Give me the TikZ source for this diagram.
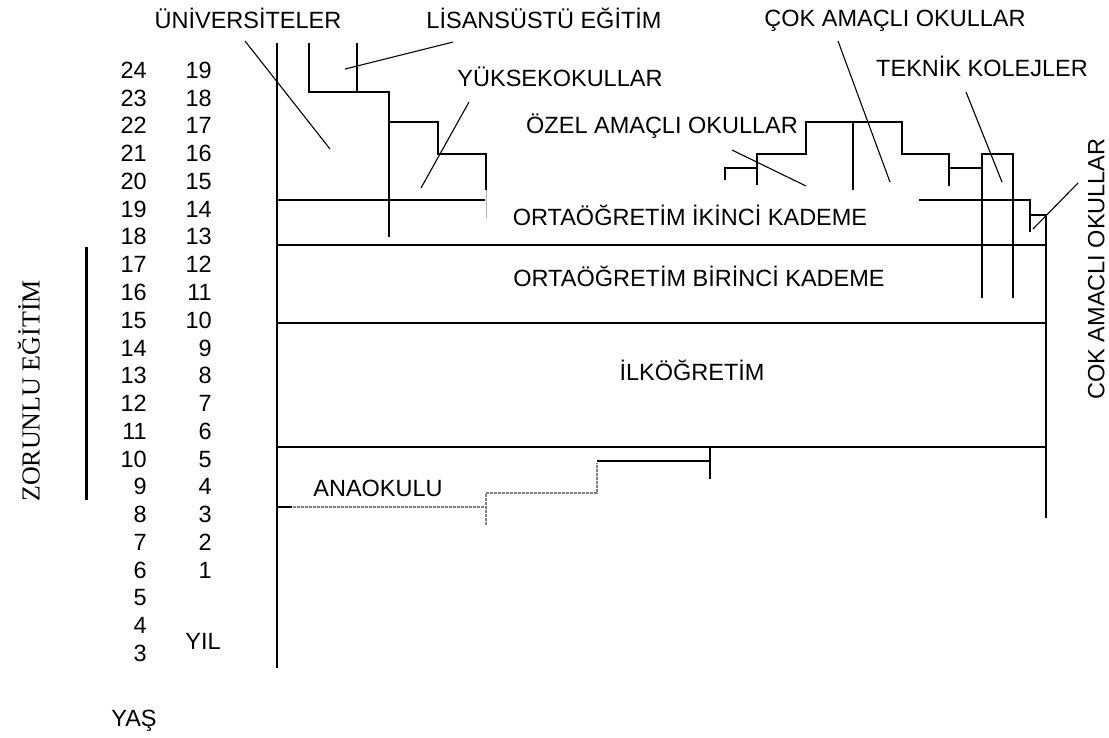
\documentclass[tikz,border=0pt]{standalone}
\usepackage{fontspec}
\setmainfont{Liberation Sans}
\newfontfamily\serifyazi{Liberation Serif}
\tikzset{
  etiket/.style={font=\fontsize{23.5}{28}\selectfont, inner sep=0pt, text height=16.8pt, text depth=0pt},
  cizgi/.style={line width=1.3pt},
  gri/.style={gray, line width=1.3pt, dash pattern=on 3pt off 1pt},
  isaret/.style={line width=1.1pt},
}
\begin{document}
\begin{tikzpicture}[x=1pt, y=-1pt]
    \useasboundingbox (0,0) rectangle (1109,737);
    % yas ve yil sutunlari
    \foreach \yas [count=\i from 0] in {24,23,...,3}
        \node[etiket, anchor=east] (yas\yas) at (147,{70+\i*27.76}) {\yas};
    \foreach \yil [count=\i from 0] in {19,18,...,1}
        \node[etiket, anchor=east] (yil\yil) at (212,{70+\i*27.76}) {\yil};
    \node[etiket] (yil) at (203,641) {YIL};
    \node[etiket] (yas) at (134,718) {YAŞ};
    \draw[line width=3pt] (86,247) -- (86,500);
    \node[font=\serifyazi\fontsize{26}{30}\selectfont, rotate=90, inner sep=0pt, text height=17.2pt, text depth=0pt] (zorunlu) at (31,391) {ZORUNLU EĞİTİM};
    % ana cizgiler
    \draw[cizgi] (277,43) -- (277,668);
    \draw[cizgi] (277,200) -- (485,200);
    \draw[cizgi] (277,245) -- (1046,245);
    \draw[cizgi] (277,323) -- (1046,323);
    \draw[cizgi] (277,447) -- (1046,447);
    \draw[cizgi] (919,200) -- (1030,200) -- (1030,232);
    \draw[cizgi] (1030,215) -- (1046,215) -- (1046,518);
    % universite basamaklari
    \draw[cizgi] (309,43) -- (309,92) -- (389,92) -- (389,237);
    \draw[cizgi] (357,43) -- (357,92);
    \draw[cizgi] (389,122) -- (438,122) -- (438,154) -- (486,154) -- (486,190);
    \draw[gray!60, line width=0.8pt] (486,190) -- (486,218);
    % ortaogretim sonrasi basamaklar
    \draw[cizgi] (725,180) -- (725,168) -- (757,168);
    \draw[cizgi] (757,185) -- (757,154) -- (806,154) -- (806,122) -- (902,122) -- (902,154) -- (949,154) -- (949,186);
    \draw[cizgi] (853,122) -- (853,190);
    \draw[cizgi] (949,168) -- (982,168);
    \draw[cizgi] (982,298) -- (982,154) -- (1013,154) -- (1013,298);
    % anaokulu basamaklari
    \draw[cizgi] (277,507) -- (292,507);
    \draw[gri] (293,507) -- (486,507) (486,525) -- (486,493) -- (597,493) -- (597,463);
    \draw[cizgi] (597,461) -- (710,461) (710,447) -- (710,479);
    % etiketler
    \node[etiket] (universite) at (248,20) {ÜNİVERSİTELER};
    \node[etiket] (lisansustu) at (544,20) {LİSANSÜSTÜ EĞİTİM};
    \node[etiket] (cokamacli) at (895,18) {ÇOK AMAÇLI OKULLAR};
    \node[etiket] (yuksekokul) at (560,78) {YÜKSEKOKULLAR};
    \node[etiket] (teknik) at (982,68) {TEKNİK KOLEJLER};
    \node[etiket] (ozel) at (662,125) {ÖZEL AMAÇLI OKULLAR};
    \node[etiket] (ikinci) at (690,217) {ORTAÖĞRETİM İKİNCİ KADEME};
    \node[etiket] (birinci) at (699,278) {ORTAÖĞRETİM BİRİNCİ KADEME};
    \node[etiket] (ilk) at (692,372) {İLKÖĞRETİM};
    \node[etiket] (anaokulu) at (378,488) {ANAOKULU};
    \node[etiket, rotate=90] (cokyan) at (1096,269) {COK AMACLI OKULLAR};
    % isaret cizgileri
    \coordinate (uniBas) at (245,41);    \coordinate (uniSon) at (330,149);
    \coordinate (lisBas) at (453,42);    \coordinate (lisSon) at (345,69);
    \coordinate (yukBas) at (469,102);   \coordinate (yukSon) at (421,188);
    \coordinate (cokBas) at (838,41);    \coordinate (cokSon) at (890,182);
    \coordinate (tekBas) at (966,92);    \coordinate (tekSon) at (1002,182);
    \coordinate (ozelBas) at (732,150);  \coordinate (ozelSon) at (806,186);
    \coordinate (yanBas) at (1078,183);  \coordinate (yanSon) at (1033,229);
    \foreach \p in {uni,lis,yuk,cok,tek,ozel,yan}
        \draw[isaret] (\p Bas) -- (\p Son);
\end{tikzpicture}
\end{document}
